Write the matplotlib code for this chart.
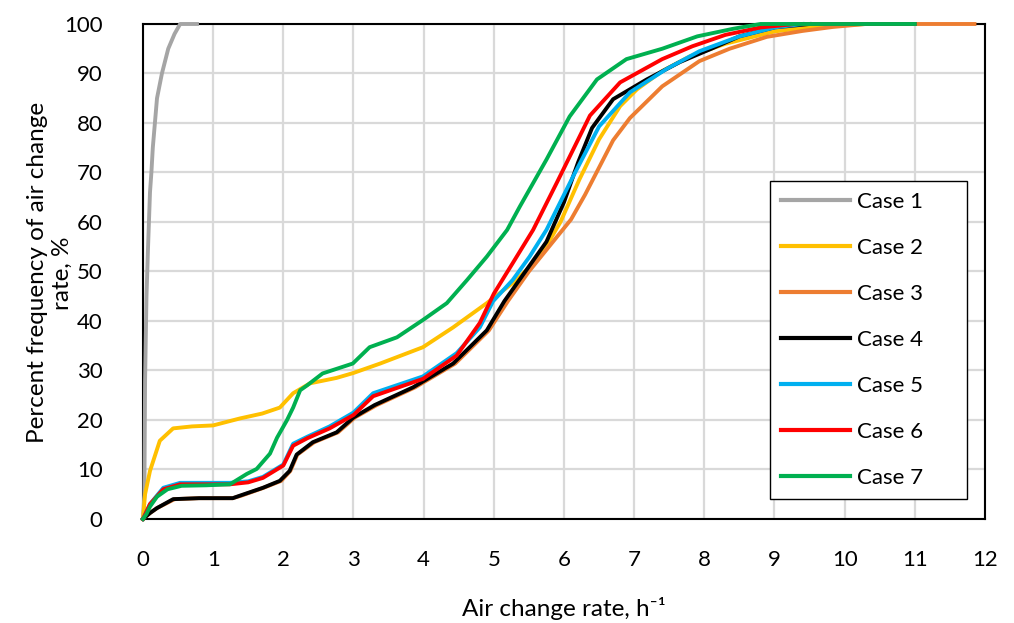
import matplotlib
matplotlib.use("Agg")
import matplotlib.pyplot as plt

plt.rcParams['font.family'] = ['Lato', 'DejaVu Sans']

# cumulative frequency (%) vs air change rate (1/h) for each case
case1_x = [0, 0.02, 0.03, 0.05, 0.07, 0.1, 0.12, 0.14, 0.17, 0.2, 0.27, 0.36, 0.45, 0.53, 0.77]
case1_y = [0, 5, 28, 45, 54, 66, 70, 75, 80, 85, 90, 95, 98, 100, 100]

case2_x = [0, 0.03, 0.1, 0.24, 0.43, 0.7, 1.0, 1.38, 1.7, 1.95, 2.14, 2.38, 2.76, 3.0, 3.38,
           3.99, 4.42, 4.9, 5.3, 5.66, 5.95, 6.22, 6.5, 6.8, 7.04, 7.4, 7.8, 8.3, 9.0, 9.6, 10.3]
case2_y = [0, 5, 9.7, 15.8, 18.3, 18.7, 18.9, 20.3, 21.3, 22.5, 25.4, 27.4, 28.5, 29.5, 31.4,
           34.7, 38.7, 43.6, 48, 53, 60, 68.6, 76.7, 83.4, 86.8, 90.5, 93.5, 96, 98.5, 99.5, 100]

case3_x = [0, 0.1, 0.2, 0.45, 0.8, 1.28, 1.4, 1.72, 1.97, 2.1, 2.2, 2.44, 2.78, 3.02, 3.33,
           3.88, 4.45, 4.93, 5.2, 5.5, 5.9, 6.1, 6.3, 6.5, 6.7, 6.94, 7.4, 7.93, 8.36, 8.89,
           9.4, 9.83, 10.3, 11.85]
case3_y = [0, 1.2, 2.2, 4, 4.2, 4.2, 4.7, 6.3, 7.7, 9.7, 13, 15.5, 17.5, 20.5, 23,
           26.6, 31.4, 38.1, 44, 50, 57, 60.5, 65.5, 71, 76.5, 81, 87.4, 92.5, 95, 97.4,
           98.6, 99.4, 100, 100]

case4_x = [0, 0.1, 0.2, 0.43, 0.8, 1.28, 1.38, 1.71, 1.95, 2.09, 2.19, 2.42, 2.76, 3.0, 3.3,
           3.85, 4.42, 4.9, 5.15, 5.5, 5.75, 6.0, 6.2, 6.4, 6.7, 7.18, 7.65, 8.1, 8.5, 9.0, 9.5]
case4_y = [0, 1.2, 2.2, 4, 4.2, 4.2, 4.7, 6.3, 7.7, 9.7, 13, 15.5, 17.5, 20.5, 23,
           26.6, 31.4, 38.1, 44, 51, 56, 64, 72, 79, 84.8, 88.8, 92.3, 95, 97.5, 99.3, 100]

case5_x = [0, 0.05, 0.1, 0.29, 0.53, 0.9, 1.24, 1.5, 1.71, 2.0, 2.14, 2.34, 2.66, 3.0, 3.28,
           3.99, 4.47, 4.8, 4.99, 5.27, 5.51, 5.75, 6.13, 6.5, 6.94, 7.46, 7.93, 8.5, 9.0, 9.4]
case5_y = [0, 1.5, 3, 6.3, 7.3, 7.3, 7.3, 7.6, 8.5, 11, 15.2, 16.6, 18.7, 21.5, 25.4,
           28.8, 33.5, 38.7, 44, 48.3, 53, 58.4, 69.2, 79.3, 86.2, 90.9, 94.5, 97.5, 99.3, 100]

case6_x = [0, 0.05, 0.1, 0.29, 0.53, 0.9, 1.24, 1.5, 1.71, 2.0, 2.14, 2.34, 2.66, 3.0, 3.28,
           3.99, 4.47, 4.8, 5.0, 5.27, 5.56, 5.9, 6.37, 6.8, 7.4, 7.83, 8.3, 8.8, 9.3, 11.0]
case6_y = [0, 1.5, 3, 6, 7, 7, 7, 7.4, 8.3, 10.8, 14.8, 16.3, 18.3, 21, 24.8,
           28.3, 33, 39.6, 45.5, 51.7, 58.4, 68, 81.5, 88.2, 92.9, 95.5, 97.8, 99.3, 100, 100]

case7_x = [0, 0.05, 0.1, 0.2, 0.35, 0.55, 0.9, 1.24, 1.48, 1.62, 1.81, 1.91, 2.05, 2.14, 2.24,
           2.34, 2.56, 2.99, 3.23, 3.62, 3.99, 4.33, 4.62, 4.9, 5.19, 5.37, 5.75, 6.08, 6.47,
           6.89, 7.4, 7.9, 8.4, 8.8, 11.0]
case7_y = [0, 1, 2.5, 4.5, 6, 6.7, 6.8, 7, 9.1, 10.1, 13.2, 16.4, 19.9, 22.5, 26,
           27, 29.4, 31.4, 34.7, 36.7, 40.2, 43.6, 48.3, 53, 58.4, 63.1, 72.6, 81.3, 88.8,
           92.9, 95, 97.5, 99, 100, 100]

labels = ["Case 1", "Case 2", "Case 3", "Case 4", "Case 5", "Case 6", "Case 7"]
colors = ["#A5A5A5", "#FFC000", "#ED7D31", "#000000", "#00B0F0", "#FF0000", "#00B050"]
xs = [case1_x, case2_x, case3_x, case4_x, case5_x, case6_x, case7_x]
ys = [case1_y, case2_y, case3_y, case4_y, case5_y, case6_y, case7_y]

fig = plt.figure(figsize=(10.14, 6.23), dpi=100)
ax = fig.add_axes([0.141, 0.167, 0.8304, 0.7945])

for x, y, c, lab in zip(xs, ys, colors, labels):
    ax.plot(x, y, color=c, lw=2.8, label=lab, zorder=3, clip_on=False)

ax.set_xlim(0, 12)
ax.set_ylim(0, 100)
ax.set_xticks(range(0, 13))
ax.set_yticks(range(0, 101, 10))
ax.grid(True, color="#D9D9D9", lw=1.6)
ax.set_axisbelow(True)
ax.tick_params(length=0, labelsize=16, pad=22)
ax.tick_params(axis='y', pad=29)
for s in ax.spines.values():
    s.set_color("black")
    s.set_linewidth(1.5)

fig.text(50 / 1014, 0.562, "Percent frequency of air change\nrate, %", rotation=90,
         ha="center", va="center", multialignment="center", fontsize=17.5)
fig.text(564 / 1014, 1 - 608 / 623, "Air change rate, h\u207b\u00b9", ha="center",
         va="center", fontsize=17.5)

# legend box spans a fixed width on the right side of the plot
leg = ax.legend(loc="upper left", bbox_to_anchor=(770 / 1014, 0, 197 / 1014, 1 - 181 / 623),
                bbox_transform=fig.transFigure, mode="expand", fontsize=16,
                handlelength=3.1, handletextpad=0.3, labelspacing=1.17, borderpad=0.5,
                borderaxespad=0, frameon=True, fancybox=False, edgecolor="black",
                framealpha=1)
leg.get_frame().set_linewidth(1.0)
for line in leg.get_lines():
    line.set_linewidth(3)

fig.savefig("out.png", dpi=100)
